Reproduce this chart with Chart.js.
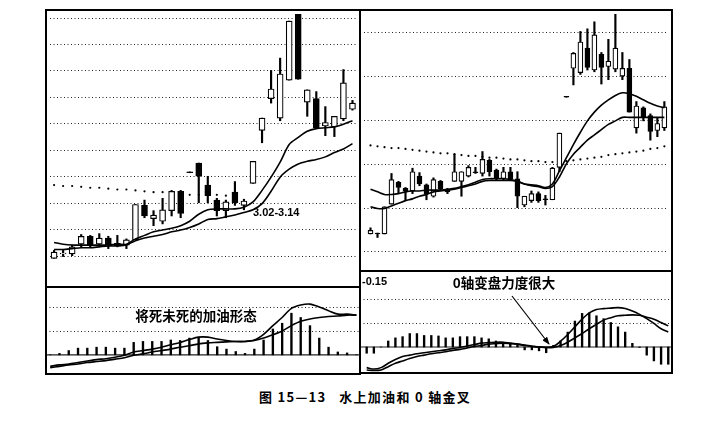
<!DOCTYPE html>
<html>
<head>
<meta charset="utf-8">
<script src="https://cdn.jsdelivr.net/npm/chart.js@4.4.1/dist/chart.umd.min.js"></script>
<style>
  body { margin: 0; background: #fff; width: 714px; height: 427px; overflow: hidden; position: relative;
         font-family: "Noto Sans CJK SC", sans-serif; color: #000; }
  canvas, .frame, .line, .lbl, svg { position: absolute; }
  .frame { border: 2px solid #000; box-sizing: border-box; }
  .line { background: #000; }
  .lbl { white-space: pre; line-height: 1; }
  .num { font: bold 11px "Liberation Sans", Arial, sans-serif; }
  .cn { font-size: 13.5px; font-weight: 700; }
</style>
</head>
<body>
<canvas id="leftPrice" width="314" height="277" style="left:46px;top:10px"></canvas>
<canvas id="leftMacd" width="314" height="87" style="left:46px;top:287px"></canvas>
<canvas id="rightPrice" width="312" height="261" style="left:360px;top:10px"></canvas>
<canvas id="rightMacd" width="312" height="103" style="left:360px;top:270px"></canvas>

<div class="frame" style="left:45px;top:9px;width:316px;height:366px"></div>
<div class="frame" style="left:359px;top:9px;width:314px;height:365px"></div>
<div class="line" style="left:46px;top:286px;width:314px;height:1.5px"></div>
<div class="line" style="left:360px;top:270px;width:312px;height:2px"></div>

<div class="lbl num" style="left:253px;top:206px">3.02-3.14</div>
<div class="lbl num" style="left:362px;top:275px">-0.15</div>
<div class="lbl cn" style="left:196px;top:309px;transform:translateX(-50%)">将死未死的加油形态</div>
<div class="lbl cn" style="left:504px;top:276px;transform:translateX(-50%)">0轴变盘力度很大</div>
<div class="lbl" style="left:365px;top:390px;transform:translateX(-50%);font-size:13px;font-weight:700;letter-spacing:1.3px">图 15—13   水上加油和 0 轴金叉</div>

<svg width="714" height="427" style="left:0;top:0">
  <defs>
    <marker id="head" markerWidth="8" markerHeight="6" refX="7" refY="3" orient="auto" markerUnits="userSpaceOnUse">
      <path d="M0,0 L8,3 L0,6 z" fill="#000"/>
    </marker>
  </defs>
  <line x1="512" y1="296" x2="549" y2="344" stroke="#000" stroke-width="1.2" marker-end="url(#head)"/>
</svg>

<script>
// 左图 K线
const leftOpen  = [2.47,2.52,2.52,2.63,2.72,2.63,2.70,2.61,2.62,2.68,3.07,2.92,2.89,3.01,3.23,3.45,3.55,3.30,3.13,3.01,3.22,3.07,3.32,3.92,4.28,4.06,4.49,5.28,4.24,4.28,3.97,3.96,4.05,4.16];
const leftClose = [2.54,2.53,2.60,2.72,2.62,2.70,2.62,2.64,2.68,3.08,2.95,2.96,3.02,3.23,2.98,3.44,3.40,3.18,3.01,3.11,3.10,3.12,3.57,4.06,4.39,4.56,5.16,4.50,4.38,3.95,4.01,4.08,4.46,4.23];
const leftHigh  = [2.56,2.56,2.62,2.74,2.73,2.75,2.72,2.73,2.69,3.08,3.13,3.01,3.15,3.24,3.24,3.45,3.55,3.40,3.15,3.13,3.34,3.14,3.57,4.06,4.60,4.74,5.16,5.35,4.38,4.36,4.19,4.08,4.61,4.26];
const leftLow   = [2.47,2.49,2.50,2.60,2.60,2.61,2.58,2.60,2.58,2.68,2.93,2.84,2.86,2.95,2.93,3.44,3.10,3.10,2.95,2.93,3.07,3.02,3.32,3.78,4.23,4.03,4.49,4.50,4.08,3.95,3.86,3.85,4.03,4.15];
const leftMaFast = [2.65,2.63,2.62,2.62,2.62,2.62,2.62,2.63,2.63,2.69,2.73,2.77,2.79,2.81,2.84,2.89,2.97,3.02,3.03,3.03,3.03,3.05,3.11,3.24,3.39,3.56,3.76,3.84,3.91,3.94,3.95,3.96,3.99,4.03];
const leftMaSlow = [2.57,2.57,2.58,2.59,2.59,2.60,2.61,2.61,2.62,2.67,2.70,2.72,2.74,2.77,2.79,2.82,2.86,2.91,2.92,2.94,2.96,2.99,3.02,3.09,3.23,3.39,3.48,3.54,3.57,3.59,3.62,3.67,3.71,3.77];
const leftMaLong = [3.30,3.29,3.29,3.28,3.27,3.27,3.26,3.25,3.25,3.24,3.23,3.22,3.22,3.21,3.20,3.19,3.19,3.19,3.19,3.18];
const leftGrid = [2.50,2.80,3.10,3.40,3.70,4.00,4.30,4.60,4.90,5.20];

// 左图 MACD
const leftHist = [0,0.003,0.009,0.014,0.014,0.016,0.016,0.014,0.014,0.026,0.028,0.028,0.028,0.031,0.030,0.035,0.037,0.030,0.017,0.012,0.007,0.003,0.012,0.031,0.054,0.066,0.087,0.078,0.061,0.035,0.016,0.006,0.004,0];
const leftDif  = [-0.024,-0.021,-0.019,-0.016,-0.013,-0.010,-0.008,-0.005,-0.001,0.006,0.009,0.012,0.016,0.021,0.026,0.032,0.037,0.037,0.033,0.030,0.028,0.028,0.031,0.043,0.061,0.078,0.097,0.104,0.106,0.100,0.092,0.085,0.085,0.083];
const leftDea  = [-0.027,-0.024,-0.021,-0.019,-0.016,-0.014,-0.012,-0.009,-0.006,-0.001,0.002,0.006,0.009,0.012,0.016,0.019,0.023,0.025,0.026,0.027,0.028,0.028,0.030,0.035,0.042,0.050,0.061,0.070,0.075,0.078,0.080,0.081,0.083,0.083];
const macdGrid = [0.05,0.10];

// 右图 K线
const rightOpen  = [4.20,4.21,4.20,4.54,4.79,4.72,4.69,4.86,4.76,4.63,4.80,4.71,4.80,4.80,4.86,4.91,4.89,5.04,4.93,4.83,4.91,4.83,4.53,4.58,4.66,4.60,4.59,4.96,5.77,6.09,6.04,6.32,6.07,6.25,6.11,6.08,6.00,6.09,5.41,5.64,5.55,5.38,5.41];
const rightClose = [4.24,4.20,4.51,4.82,4.73,4.69,4.91,4.77,4.66,4.82,4.71,4.68,4.91,4.91,4.96,4.90,5.05,4.91,4.84,4.91,4.83,4.63,4.63,4.66,4.58,4.59,4.95,5.35,5.76,6.26,6.39,6.10,6.47,6.10,6.17,6.32,6.09,5.59,5.66,5.53,5.37,5.46,5.65];
const rightHigh  = [4.27,4.21,4.51,4.89,4.80,4.73,4.95,4.90,4.77,4.84,4.81,4.72,5.11,4.91,4.98,4.96,5.14,5.05,4.94,4.96,4.96,4.91,4.63,4.69,4.68,4.64,4.96,5.35,5.77,6.27,6.51,6.54,6.62,6.27,6.42,6.75,6.27,6.19,5.71,5.65,5.57,5.53,5.71];
const rightLow   = [4.20,4.16,4.20,4.54,4.66,4.59,4.66,4.75,4.59,4.62,4.70,4.66,4.80,4.63,4.85,4.89,4.86,4.86,4.81,4.81,4.81,4.50,4.51,4.56,4.56,4.53,4.59,4.91,5.76,5.90,6.02,6.07,6.05,5.91,5.96,6.05,5.96,5.59,5.35,5.49,5.27,5.31,5.38];
const rightMaFast = [4.71,4.68,4.65,4.65,4.66,4.68,4.69,4.69,4.70,4.70,4.70,4.71,4.72,4.74,4.76,4.79,4.82,4.83,4.83,4.83,4.82,4.80,4.77,4.76,4.75,4.73,4.77,4.92,5.07,5.22,5.36,5.49,5.59,5.67,5.73,5.78,5.81,5.80,5.77,5.73,5.69,5.66,5.64];
const rightMaSlow = [4.51,4.49,4.49,4.52,4.55,4.58,4.60,4.63,4.65,4.68,4.69,4.70,4.71,4.73,4.75,4.77,4.80,4.81,4.81,4.81,4.81,4.80,4.77,4.75,4.74,4.72,4.74,4.85,5.00,5.11,5.19,5.27,5.33,5.39,5.45,5.49,5.53,5.53,5.53,5.53,5.53,5.53,5.53];
const rightMaLong = [5.21,5.20,5.19,5.18,5.18,5.17,5.16,5.15,5.14,5.13,5.12,5.12,5.11,5.10,5.09,5.09,5.08,5.07,5.07,5.06,5.05,5.05,5.04,5.03,5.03,5.02,5.02,5.02,5.03,5.04,5.05,5.06,5.07,5.08,5.10,5.11,5.12,5.13,5.14,5.15,5.17,5.18,5.20];
const rightGrid = [4.0,4.5,5.0,5.5,6.0,6.5];

// 右图 MACD
const rightHist = [-0.013,-0.013,0,0.0125,0.019,0.0215,0.028,0.028,0.024,0.024,0.023,0.019,0.019,0.0215,0.0215,0.0215,0.019,0.017,0.0125,0.010,0.0056,0.0035,-0.006,-0.006,-0.008,-0.012,0.0035,0.0125,0.031,0.054,0.070,0.071,0.065,0.059,0.051,0.042,0.031,0.0076,-0.001,-0.017,-0.029,-0.036,-0.036];
const rightDif  = [-0.043,-0.046,-0.043,-0.034,-0.026,-0.020,-0.017,-0.014,-0.012,-0.010,-0.008,-0.006,-0.003,-0.001,0.002,0.005,0.008,0.009,0.010,0.010,0.008,0.006,0.004,0.002,0.000,-0.001,0.001,0.012,0.026,0.042,0.058,0.071,0.078,0.080,0.081,0.082,0.080,0.075,0.068,0.059,0.049,0.038,0.031];
const rightDea  = [-0.048,-0.049,-0.048,-0.041,-0.034,-0.029,-0.024,-0.020,-0.017,-0.014,-0.012,-0.010,-0.007,-0.005,-0.002,0.001,0.003,0.006,0.007,0.008,0.007,0.006,0.003,0.001,0,-0.001,-0.001,0.003,0.010,0.019,0.028,0.038,0.047,0.056,0.061,0.065,0.066,0.067,0.066,0.062,0.058,0.051,0.044];

// 虚线网格 + 0轴
const dotGrid = {
  id: 'dotGrid',
  beforeDatasetsDraw(chart, args, opts) {
    const { ctx, chartArea: a, scales: { y } } = chart;
    ctx.save();
    ctx.strokeStyle = '#222';
    ctx.lineWidth = 1;
    ctx.setLineDash([1, 2.5]);
    (opts.values || []).forEach(v => {
      const py = Math.round(y.getPixelForValue(v)) + 0.5;
      ctx.beginPath(); ctx.moveTo(a.left, py); ctx.lineTo(a.right, py); ctx.stroke();
    });
    if (opts.zero) {
      ctx.setLineDash([]);
      ctx.lineWidth = 1.2;
      const py = y.getPixelForValue(0);
      ctx.beginPath(); ctx.moveTo(a.left, py); ctx.lineTo(a.right, py); ctx.stroke();
    }
    ctx.restore();
  }
};

const pts = arr => arr.map((v, i) => ({ x: i, y: v }));

function candles(o, h, l, c, w) {
  return [
    { type: 'bar', order: 1, grouped: false, barThickness: w,
      data: o.map((v, i) => ({ x: i, y: [v, c[i]] })),
      backgroundColor: o.map((v, i) => c[i] >= v ? '#fff' : '#000'),
      borderColor: '#000', borderWidth: 1.2, borderSkipped: false },
    { type: 'bar', order: 2, grouped: false, barThickness: 1.5,
      data: o.map((v, i) => ({ x: i, y: [l[i], h[i]] })),
      backgroundColor: '#000', borderWidth: 0 }
  ];
}

function maLine(arr) {
  return { type: 'line', order: 0, data: pts(arr), borderColor: '#000', borderWidth: 1.6,
           pointRadius: 0, tension: 0.3 };
}

function maDots(arr) {
  return { type: 'line', order: 3, data: pts(arr), showLine: false, pointRadius: 1.1,
           pointBackgroundColor: '#000', pointBorderWidth: 0 };
}

function histBars(arr) {
  return { type: 'bar', order: 1, grouped: false, barThickness: 1.7, data: pts(arr),
           backgroundColor: '#000', borderWidth: 0 };
}

function panel(id, xr, yr, grid, zero, sets) {
  return new Chart(document.getElementById(id), {
    type: 'bar',
    data: { datasets: sets },
    options: {
      responsive: false, animation: false, events: [],
      layout: { padding: 0 },
      plugins: { legend: { display: false }, tooltip: { enabled: false },
                 dotGrid: { values: grid, zero: zero } },
      scales: {
        x: { type: 'linear', min: xr[0], max: xr[1], offset: false, display: false },
        y: { type: 'linear', min: yr[0], max: yr[1], display: false }
      }
    },
    plugins: [dotGrid]
  });
}

const leftX = [-0.45, 33.39];
const rightX = [-0.93, 42.52];

panel('leftPrice', leftX, [2.19, 5.24], leftGrid, false, [
  ...candles(leftOpen, leftHigh, leftLow, leftClose, 6),
  maLine(leftMaFast), maLine(leftMaSlow), maDots(leftMaLong)
]);
panel('leftMacd', leftX, [-0.040, 0.1417], macdGrid, true, [
  histBars(leftHist), maLine(leftDif), maLine(leftDea)
]);
panel('rightPrice', rightX, [3.823, 6.709], rightGrid, false, [
  ...candles(rightOpen, rightHigh, rightLow, rightClose, 5),
  maLine(rightMaFast), maLine(rightMaSlow), maDots(rightMaLong)
]);
panel('rightMacd', rightX, [-0.0542, 0.1604], macdGrid, true, [
  histBars(rightHist), maLine(rightDif), maLine(rightDea)
]);
</script>
</body>
</html>
